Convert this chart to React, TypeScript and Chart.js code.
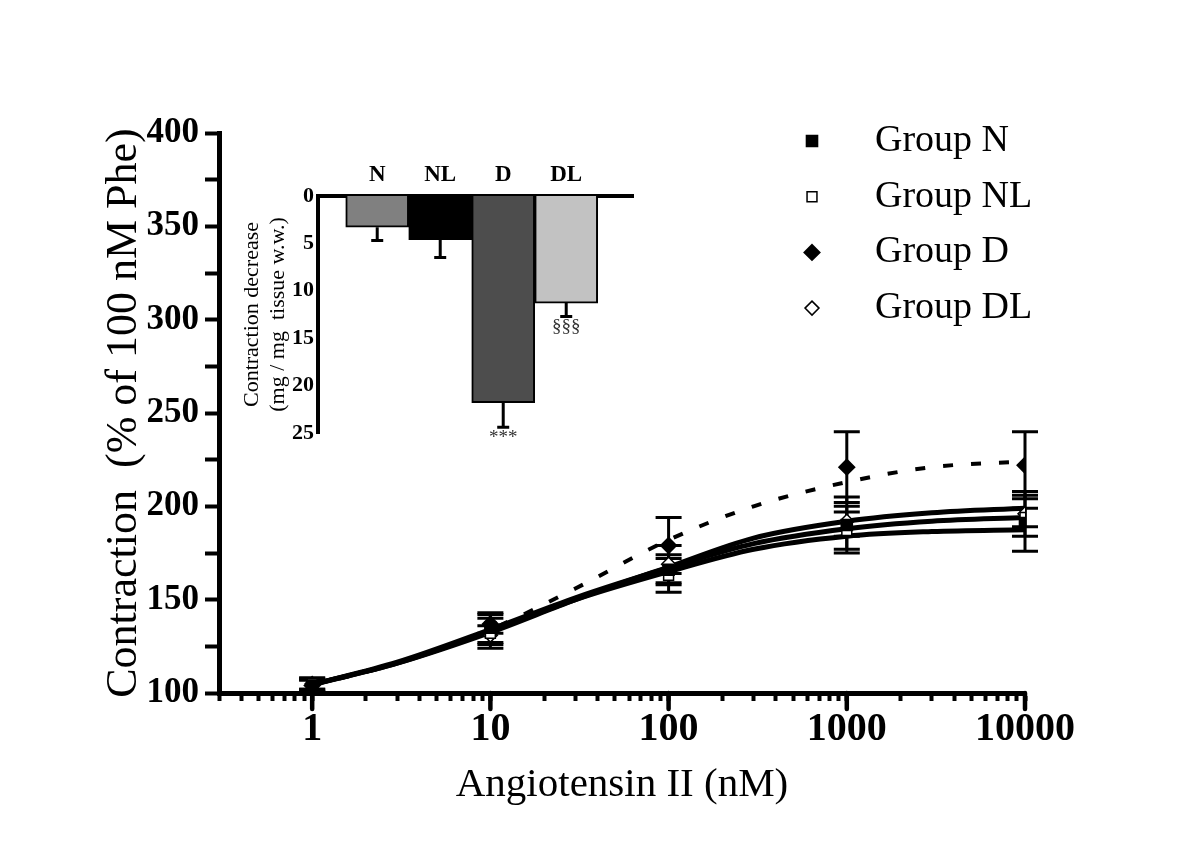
import React, { useEffect, useRef } from 'react';
import { Chart, registerables } from 'chart.js';

Chart.register(...registerables);

const FONT = '"Liberation Serif", "Times New Roman", Times, serif';

// ---------- main chart data ----------
const doses = [1, 10, 100, 1000, 10000];
const groupNames = ['Group N', 'Group NL', 'Group D', 'Group DL'];

const meanN = [104, 135, 166, 190, 191];
const semN = [3, 8, 8, 15, 15];
const meanNL = [105, 132, 163, 187, 194];
const semNL = [3, 8, 9, 10, 5];
const meanD = [104, 137, 179, 221, 222];
const semD = [3, 5, 15, 19, 18];
const meanDL = [105, 131, 169, 192, 196];
const semDL = [3, 5, 10, 8, 12];

// fitted curves
const fitDoses = [1, 3, 10, 30, 100, 300, 1000, 3000, 10000];
const fitN = [104.5, 116, 133, 150, 165, 177, 184, 186.5, 187.5];
const fitNL = [104.5, 116.5, 134, 151, 167, 180, 188, 192, 194];
const fitD = [104, 116, 134, 156, 182, 200, 213, 221, 224];
const fitDL = [104.5, 116, 132.5, 150, 167.5, 183, 192, 196.5, 199];

const xTickLabels = ['1', '10', '100', '1000', '10000'];
const yTickLabels = ['100', '150', '200', '250', '300', '350', '400'];

// ---------- inset data ----------
const insetGroups = ['N', 'NL', 'D', 'DL'];
const insetMeans = [3.3, 4.6, 21.8, 11.3];
const insetErrors = [1.4, 1.9, 2.6, 1.4];
const insetMarks = ['', '', '***', '§§§'];
const insetTickLabels = ['0', '5', '10', '15', '20', '25'];

// ---------- styles ----------
const markerStyles = [
  { pointStyle: 'rect', radius: 7.5, fill: '#000000', bw: 2 },
  { pointStyle: 'rect', radius: 7, fill: '#ffffff', bw: 1.5 },
  { pointStyle: 'rectRot', radius: 7.5, fill: '#000000', bw: 2 },
  { pointStyle: 'rectRot', radius: 7, fill: '#ffffff', bw: 1.5 },
];
const insetColors = ['#808080', '#000000', '#4d4d4d', '#c2c2c2'];

function drawMarker(ctx: CanvasRenderingContext2D, st: any, x: number, y: number) {
  ctx.save();
  ctx.beginPath();
  if (st.pointStyle === 'rect') {
    const s = st.radius * Math.SQRT1_2;
    ctx.rect(x - s, y - s, 2 * s, 2 * s);
  } else {
    const r = st.radius;
    ctx.moveTo(x, y - r);
    ctx.lineTo(x + r, y);
    ctx.lineTo(x, y + r);
    ctx.lineTo(x - r, y);
    ctx.closePath();
  }
  ctx.fillStyle = st.fill;
  ctx.fill();
  ctx.lineWidth = st.bw;
  ctx.strokeStyle = '#000';
  ctx.stroke();
  ctx.restore();
}

const errorBarPlugin = {
  id: 'mainErrorBars',
  beforeDatasetsDraw(chart: any) {
    const { ctx, scales } = chart;
    const x = scales.x;
    const y = scales.y;
    ctx.save();
    ctx.strokeStyle = '#000';
    ctx.lineWidth = 3;
    chart.data.datasets.forEach((ds: any) => {
      if (!ds.errors) return;
      ds.data.forEach((pt: any, i: number) => {
        const px = x.getPixelForValue(pt.x);
        const top = y.getPixelForValue(pt.y + ds.errors[i]);
        const bot = y.getPixelForValue(pt.y - ds.errors[i]);
        ctx.beginPath();
        ctx.moveTo(px, top);
        ctx.lineTo(px, bot);
        ctx.moveTo(px - 13, top);
        ctx.lineTo(px + 13, top);
        ctx.moveTo(px - 13, bot);
        ctx.lineTo(px + 13, bot);
        ctx.stroke();
      });
    });
    ctx.restore();
  },
};

const majorTickPlugin = {
  id: 'majorTicks',
  afterDraw(chart: any) {
    const { ctx } = chart;
    const x = chart.scales.x;
    ctx.save();
    ctx.strokeStyle = '#000';
    ctx.lineWidth = 4.5;
    ctx.lineCap = 'round';
    x.ticks.forEach((t: any) => {
      if (xTickLabels.includes(String(t.value))) {
        const px = x.getPixelForValue(t.value);
        ctx.beginPath();
        ctx.moveTo(px, x.top);
        ctx.lineTo(px, x.top + 16);
        ctx.stroke();
      }
    });
    ctx.restore();
  },
};

const legendPlugin = {
  id: 'customLegend',
  afterDraw(chart: any) {
    const { ctx, chartArea } = chart;
    const mx = chartArea.right - 213;
    ctx.save();
    ctx.font = `38px ${FONT}`;
    ctx.fillStyle = '#000';
    ctx.textBaseline = 'middle';
    ctx.textAlign = 'left';
    groupNames.forEach((name, i) => {
      const yy = chartArea.top + 8 + i * 55.7;
      drawMarker(ctx, markerStyles[i], mx, yy);
      ctx.fillText(name, mx + 63, yy);
    });
    ctx.restore();
  },
};

const insetPlugin = {
  id: 'insetExtras',
  afterDatasetsDraw(chart: any) {
    const { ctx, scales } = chart;
    const x = scales.x;
    const y = scales.y;
    ctx.save();
    ctx.strokeStyle = '#000';
    ctx.lineWidth = 3;
    insetMeans.forEach((m, i) => {
      const px = x.getPixelForValue(i + 1);
      const p0 = y.getPixelForValue(m);
      const p1 = y.getPixelForValue(m + insetErrors[i]);
      ctx.beginPath();
      ctx.moveTo(px, p0);
      ctx.lineTo(px, p1);
      ctx.moveTo(px - 6, p1);
      ctx.lineTo(px + 6, p1);
      ctx.stroke();
      if (insetMarks[i]) {
        ctx.font = `19px ${FONT}`;
        ctx.fillStyle = '#333';
        ctx.textAlign = 'center';
        ctx.textBaseline = 'top';
        ctx.fillText(insetMarks[i], px, p1 + 1);
      }
    });
    ctx.restore();
  },
};

function buildLogTicks() {
  const out: any[] = [];
  for (let e = -1; e <= 4; e++) {
    for (let m = 1; m <= 9; m++) {
      const v = Number((m * Math.pow(10, e)).toPrecision(6));
      if (v >= 0.3 && v <= 10000) out.push({ value: v });
    }
  }
  return out;
}

function mainConfig(): any {
  const means = [meanN, meanNL, meanD, meanDL];
  const sems = [semN, semNL, semD, semDL];
  const fits = [fitN, fitNL, fitD, fitDL];
  const pointSets = means.map((m, gi) => ({
    type: 'scatter',
    label: groupNames[gi],
    data: doses.map((d, i) => ({ x: d, y: m[i] })),
    errors: sems[gi],
    showLine: false,
    pointStyle: markerStyles[gi].pointStyle,
    pointRadius: markerStyles[gi].radius,
    pointBackgroundColor: markerStyles[gi].fill,
    pointBorderColor: '#000',
    pointBorderWidth: markerStyles[gi].bw,
  }));
  const fitSets = fits.map((f, gi) => ({
    type: 'line',
    label: groupNames[gi] + ' fit',
    data: fitDoses.map((d, i) => ({ x: d, y: f[i] })),
    borderColor: '#000',
    borderWidth: gi === 2 ? 4 : 5,
    borderDash: gi === 2 ? [10, 18] : [],
    pointRadius: 0,
    cubicInterpolationMode: 'monotone',
    fill: false,
  }));
  return {
    type: 'scatter',
    data: { datasets: [...pointSets, ...fitSets] },
    options: {
      responsive: false,
      animation: false,
      devicePixelRatio: 1,
      layout: { padding: { left: 0, top: 133, right: 175, bottom: 0 } },
      plugins: { legend: { display: false }, tooltip: { enabled: false } },
      scales: {
        x: {
          type: 'logarithmic',
          min: 0.3,
          max: 10000,
          afterBuildTicks: (s: any) => {
            s.ticks = buildLogTicks();
          },
          afterFit: (s: any) => {
            s.height = 157;
          },
          ticks: {
            autoSkip: false,
            maxRotation: 0,
            padding: 5,
            color: '#000',
            font: { family: FONT, size: 40, weight: 'bold' },
            callback: (v: any) => {
              const s = String(v);
              return xTickLabels.includes(s) ? s : '';
            },
          },
          grid: {
            display: true,
            drawOnChartArea: false,
            drawTicks: true,
            tickLength: 8,
            tickWidth: 4,
            color: '#000',
          },
          border: { display: true, width: 5, color: '#000' },
          title: {
            display: true,
            text: 'Angiotensin II (nM)',
            color: '#000',
            font: { family: FONT, size: 41 },
            padding: { top: 0, bottom: 40 },
          },
        },
        y: {
          type: 'linear',
          min: 100,
          max: 400,
          afterFit: (s: any) => {
            s.width = 219;
          },
          ticks: {
            stepSize: 25,
            padding: 6,
            color: '#000',
            font: { family: FONT, size: 35, weight: 'bold' },
            callback: (v: any) => {
              const s = String(v);
              return yTickLabels.includes(s) ? s : '';
            },
          },
          grid: {
            display: true,
            drawOnChartArea: false,
            drawTicks: true,
            tickLength: 14,
            tickWidth: 4,
            color: '#000',
          },
          border: { display: true, width: 5, color: '#000' },
          title: {
            display: true,
            text: 'Contraction  (% of 100 nM Phe)',
            color: '#000',
            font: { family: FONT, size: 44 },
            padding: { top: 98, bottom: 0 },
          },
        },
      },
    },
    plugins: [errorBarPlugin, majorTickPlugin, legendPlugin],
  };
}

function insetConfig(): any {
  return {
    type: 'bar',
    data: {
      datasets: [
        {
          label: 'Contraction decrease',
          data: insetGroups.map((g, i) => ({ x: i + 1, y: insetMeans[i] })),
          backgroundColor: insetColors,
          borderColor: '#000',
          borderWidth: 2,
          barPercentage: 1,
          categoryPercentage: 1,
        },
      ],
    },
    options: {
      responsive: false,
      animation: false,
      devicePixelRatio: 1,
      layout: { padding: { left: 0, top: 0, right: 22, bottom: 27 } },
      plugins: { legend: { display: false }, tooltip: { enabled: false } },
      scales: {
        x: {
          type: 'linear',
          position: 'top',
          offset: false,
          min: 0.06,
          max: 5.06,
          afterBuildTicks: (s: any) => {
            s.ticks = insetGroups.map((_, i) => ({ value: i + 1 }));
          },
          afterFit: (s: any) => {
            s.height = 36;
          },
          ticks: {
            autoSkip: false,
            maxRotation: 0,
            padding: 7,
            color: '#000',
            font: { family: FONT, size: 23, weight: 'bold' },
            callback: (v: any) => insetGroups[Math.round(v) - 1] ?? '',
          },
          grid: { display: false, drawTicks: false, offset: false },
          border: { display: true, width: 4, color: '#000' },
        },
        y: {
          type: 'linear',
          reverse: true,
          min: 0,
          max: 25,
          afterFit: (s: any) => {
            s.width = 93;
          },
          ticks: {
            stepSize: 5,
            padding: 4,
            color: '#000',
            font: { family: FONT, size: 22, weight: 'bold' },
            callback: (v: any) => {
              const s = String(v);
              return insetTickLabels.includes(s) ? s : '';
            },
          },
          grid: { display: false, drawTicks: false },
          border: { display: true, width: 4, color: '#000' },
          title: {
            display: true,
            text: ['Contraction decrease', '(mg / mg  tissue w.w.)'],
            color: '#000',
            font: { family: FONT, size: 22, lineHeight: 1.2 },
            padding: { top: 14, bottom: 0 },
          },
        },
      },
    },
    plugins: [insetPlugin],
  };
}

export default function App() {
  const mainRef = useRef<HTMLCanvasElement>(null);
  const insetRef = useRef<HTMLCanvasElement>(null);

  useEffect(() => {
    const main = new Chart(mainRef.current as HTMLCanvasElement, mainConfig());
    const inset = new Chart(insetRef.current as HTMLCanvasElement, insetConfig());
    return () => {
      main.destroy();
      inset.destroy();
    };
  }, []);

  return (
    <div style={{ position: 'absolute', left: 0, top: 0, width: 1200, height: 850, background: '#ffffff' }}>
      <canvas
        ref={mainRef}
        width={1200}
        height={850}
        style={{ position: 'absolute', left: 0, top: 0, width: 1200, height: 850 }}
      />
      <canvas
        ref={insetRef}
        width={430}
        height={300}
        style={{ position: 'absolute', left: 225, top: 160, width: 430, height: 300 }}
      />
    </div>
  );
}
